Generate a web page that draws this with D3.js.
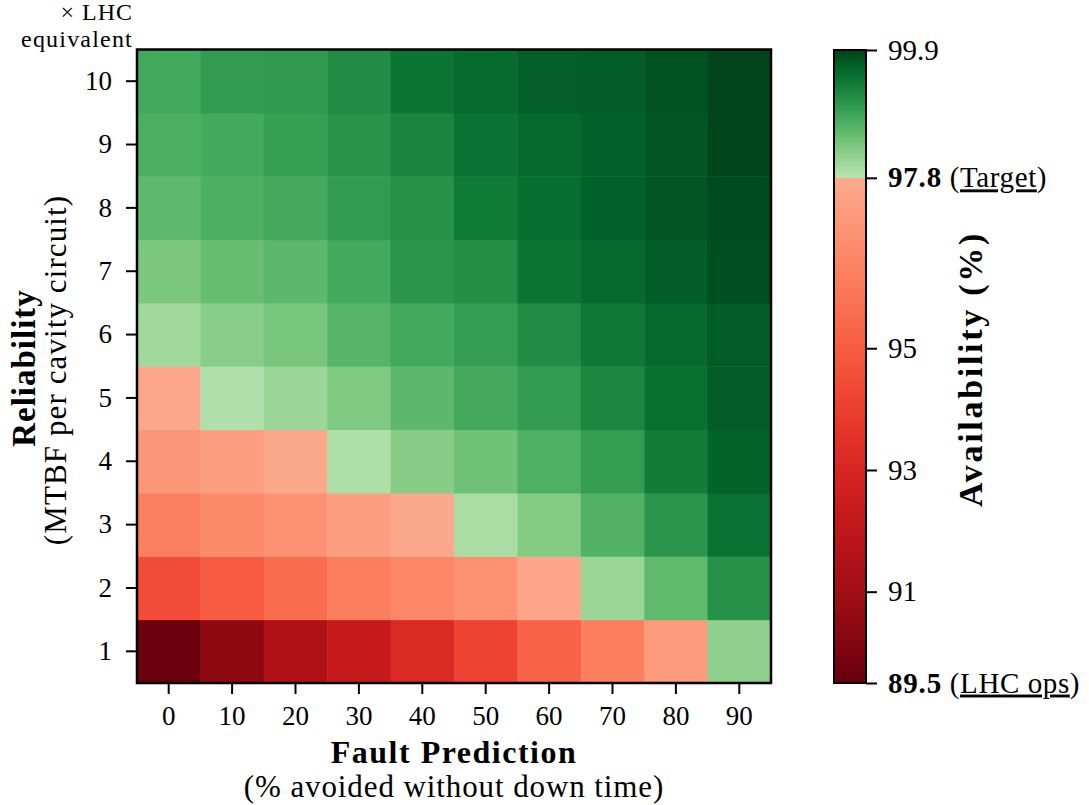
<!DOCTYPE html>
<html>
<head>
<meta charset="utf-8">
<script src="https://cdn.jsdelivr.net/npm/d3@7"></script>
<style>
  html, body { margin: 0; padding: 0; background: #fff; }
  svg { display: block; }
  text { font-family: "Liberation Serif", "Times New Roman", serif; fill: #000; }
</style>
</head>
<body>
<div id="chart"></div>
<script>
// ---- data ----
const faultPrediction = [0, 10, 20, 30, 40, 50, 60, 70, 80, 90];   // x categories (%)
const reliability = [1, 2, 3, 4, 5, 6, 7, 8, 9, 10];               // y categories (x LHC)
// availability (%) rows, one per reliability level, columns follow faultPrediction
const avail1  = [89.62, 90.46, 91.41, 92.31, 93.16, 94.17, 95.20, 96.20, 97.21, 98.18];
const avail2  = [94.48, 95.01, 95.58, 96.17, 96.51, 96.84, 97.60, 98.07, 98.55, 99.09];
const avail3  = [96.25, 96.65, 96.91, 97.34, 97.72, 97.93, 98.27, 98.65, 99.04, 99.46];
const avail4  = [97.06, 97.34, 97.70, 97.89, 98.23, 98.43, 98.69, 98.94, 99.33, 99.61];
const avail5  = [97.68, 97.85, 98.06, 98.30, 98.57, 98.78, 98.95, 99.21, 99.47, 99.66];
const avail6  = [98.01, 98.22, 98.36, 98.63, 98.79, 98.92, 99.15, 99.38, 99.54, 99.67];
const avail7  = [98.32, 98.49, 98.58, 98.79, 99.03, 99.13, 99.43, 99.54, 99.66, 99.80];
const avail8  = [98.56, 98.71, 98.78, 98.97, 99.07, 99.36, 99.50, 99.63, 99.73, 99.84];
const avail9  = [98.72, 98.79, 98.90, 99.06, 99.23, 99.45, 99.54, 99.63, 99.73, 99.88];
const avail10 = [98.79, 98.97, 98.98, 99.15, 99.42, 99.53, 99.65, 99.66, 99.77, 99.89];
const availRows = [avail1, avail2, avail3, avail4, avail5, avail6, avail7, avail8, avail9, avail10];

const colorbarTicks = [89.5, 91, 93, 95, 97.8, 99.9];
const colorMin = 89.5, colorTarget = 97.8, colorMax = 99.9;

// ---- layout ----
const W = 1089, H = 805;
const plot = { left: 137, right: 771, top: 49.5, bottom: 683 };
const cbar = { left: 834, right: 866, top: 50, bottom: 683 };

const svg = d3.select("#chart").append("svg").attr("width", W).attr("height", H);

const x = d3.scaleBand().domain(faultPrediction).range([plot.left, plot.right]);
const y = d3.scaleBand().domain(reliability).range([plot.bottom, plot.top]);

function color(v) {
  if (v < colorTarget) {
    return d3.interpolateReds(1 - 0.7 * (v - colorMin) / (colorTarget - colorMin));
  }
  return d3.interpolateGreens(0.3 + 0.7 * (v - colorTarget) / (colorMax - colorTarget));
}

const cells = [];
availRows.forEach((row, i) => row.forEach((v, j) => cells.push({ x: faultPrediction[j], y: reliability[i], v })));

svg.append("g").selectAll("rect").data(cells).join("rect")
  .attr("x", d => x(d.x))
  .attr("y", d => y(d.y))
  .attr("width", x.bandwidth() + 0.5)
  .attr("height", y.bandwidth() + 0.5)
  .attr("fill", d => color(d.v));

// axes
const xAxis = svg.append("g").attr("transform", `translate(0,${plot.bottom})`)
  .call(d3.axisBottom(x).tickSize(11).tickPadding(12));
const yAxis = svg.append("g").attr("transform", `translate(${plot.left},0)`)
  .call(d3.axisLeft(y).tickSize(11).tickPadding(14));
[xAxis, yAxis].forEach(g => {
  g.select(".domain").remove();
  g.selectAll(".tick line").attr("stroke", "#000").attr("stroke-width", 2);
  g.selectAll(".tick text").style("font-family", "'Liberation Serif', serif").style("font-size", "27px").attr("fill", "#000");
});
xAxis.selectAll(".tick text").attr("dy", "0.71em");

svg.append("rect")
  .attr("x", plot.left).attr("y", plot.top)
  .attr("width", plot.right - plot.left).attr("height", plot.bottom - plot.top)
  .attr("fill", "none").attr("stroke", "#000").attr("stroke-width", 2.5);

// axis titles
svg.append("text").attr("x", (plot.left + plot.right) / 2).attr("y", 763)
  .attr("text-anchor", "middle").style("font-size", "32px").style("font-weight", "bold")
  .style("letter-spacing", "1.5px").text("Fault Prediction");
svg.append("text").attr("x", (plot.left + plot.right) / 2).attr("y", 797)
  .attr("text-anchor", "middle").style("font-size", "31px")
  .style("letter-spacing", "0.9px").text("(% avoided without down time)");

svg.append("text").attr("transform", "translate(35,368) rotate(-90)")
  .attr("text-anchor", "middle").style("font-size", "33px").style("font-weight", "bold")
  .style("letter-spacing", "1px").text("Reliability");
svg.append("text").attr("transform", "translate(66,370) rotate(-90)")
  .attr("text-anchor", "middle").style("font-size", "31px")
  .style("letter-spacing", "1.1px").text("(MTBF per cavity circuit)");

svg.append("text").attr("x", 133).attr("y", 20).attr("text-anchor", "end")
  .style("font-size", "24px").style("letter-spacing", "1px").text("× LHC");
svg.append("text").attr("x", 133).attr("y", 47).attr("text-anchor", "end")
  .style("font-size", "24px").style("letter-spacing", "1.2px").text("equivalent");

// colorbar
const c = d3.scaleLinear().domain([colorMin, colorMax]).range([cbar.bottom, cbar.top]);
const defs = svg.append("defs");
const grad = defs.append("linearGradient").attr("id", "cbgrad")
  .attr("x1", 0).attr("y1", 1).attr("x2", 0).attr("y2", 0);
const nStops = 120;
const tOff = (colorTarget - colorMin) / (colorMax - colorMin);
const stopList = [];
for (let k = 0; k <= nStops; k++) {
  const o = k / nStops;
  if (Math.abs(o - tOff) < 1e-9) continue;
  stopList.push({ o, c: color(colorMin + (colorMax - colorMin) * o) });
}
stopList.push({ o: tOff, c: color(colorTarget - 1e-6), s: 0 });
stopList.push({ o: tOff, c: color(colorTarget), s: 1 });
stopList.sort((a, b) => a.o - b.o || (a.s || 0) - (b.s || 0));
stopList.forEach(s => grad.append("stop").attr("offset", s.o).attr("stop-color", s.c));

svg.append("rect").attr("x", cbar.left).attr("y", cbar.top)
  .attr("width", cbar.right - cbar.left).attr("height", cbar.bottom - cbar.top)
  .attr("fill", "url(#cbgrad)").attr("stroke", "#000").attr("stroke-width", 2);

const cAxis = svg.append("g").attr("transform", `translate(${cbar.right},0)`)
  .call(d3.axisRight(c).tickValues(colorbarTicks).tickSize(11).tickFormat(() => ""));
cAxis.select(".domain").remove();
cAxis.selectAll(".tick line").attr("stroke", "#000").attr("stroke-width", 2);

const cbLabels = {
  89.5: { num: "89.5", bold: true, note: "LHC ops" },
  91: { num: "91" }, 93: { num: "93" }, 95: { num: "95" },
  97.8: { num: "97.8", bold: true, note: "Target" },
  99.9: { num: "99.9" }
};
colorbarTicks.forEach(t => {
  const L = cbLabels[t];
  const tx = svg.append("text").attr("x", 888).attr("y", c(t)).attr("dy", "0.33em")
    .style("font-size", "29px");
  tx.append("tspan").style("font-weight", L.bold ? "bold" : "normal")
    .style("letter-spacing", L.bold ? "0.8px" : "0px").text(L.num);
  if (L.note) {
    tx.append("tspan").style("letter-spacing", "0.6px").text(" (");
    tx.append("tspan").style("letter-spacing", "0.6px").style("text-decoration", "underline").text(L.note);
    tx.append("tspan").text(")");
  }
});

svg.append("text").attr("transform", "translate(982,369) rotate(-90)")
  .attr("text-anchor", "middle").style("font-size", "34px").style("font-weight", "bold")
  .style("letter-spacing", "2.7px").text("Availability (%)");
</script>
</body>
</html>
